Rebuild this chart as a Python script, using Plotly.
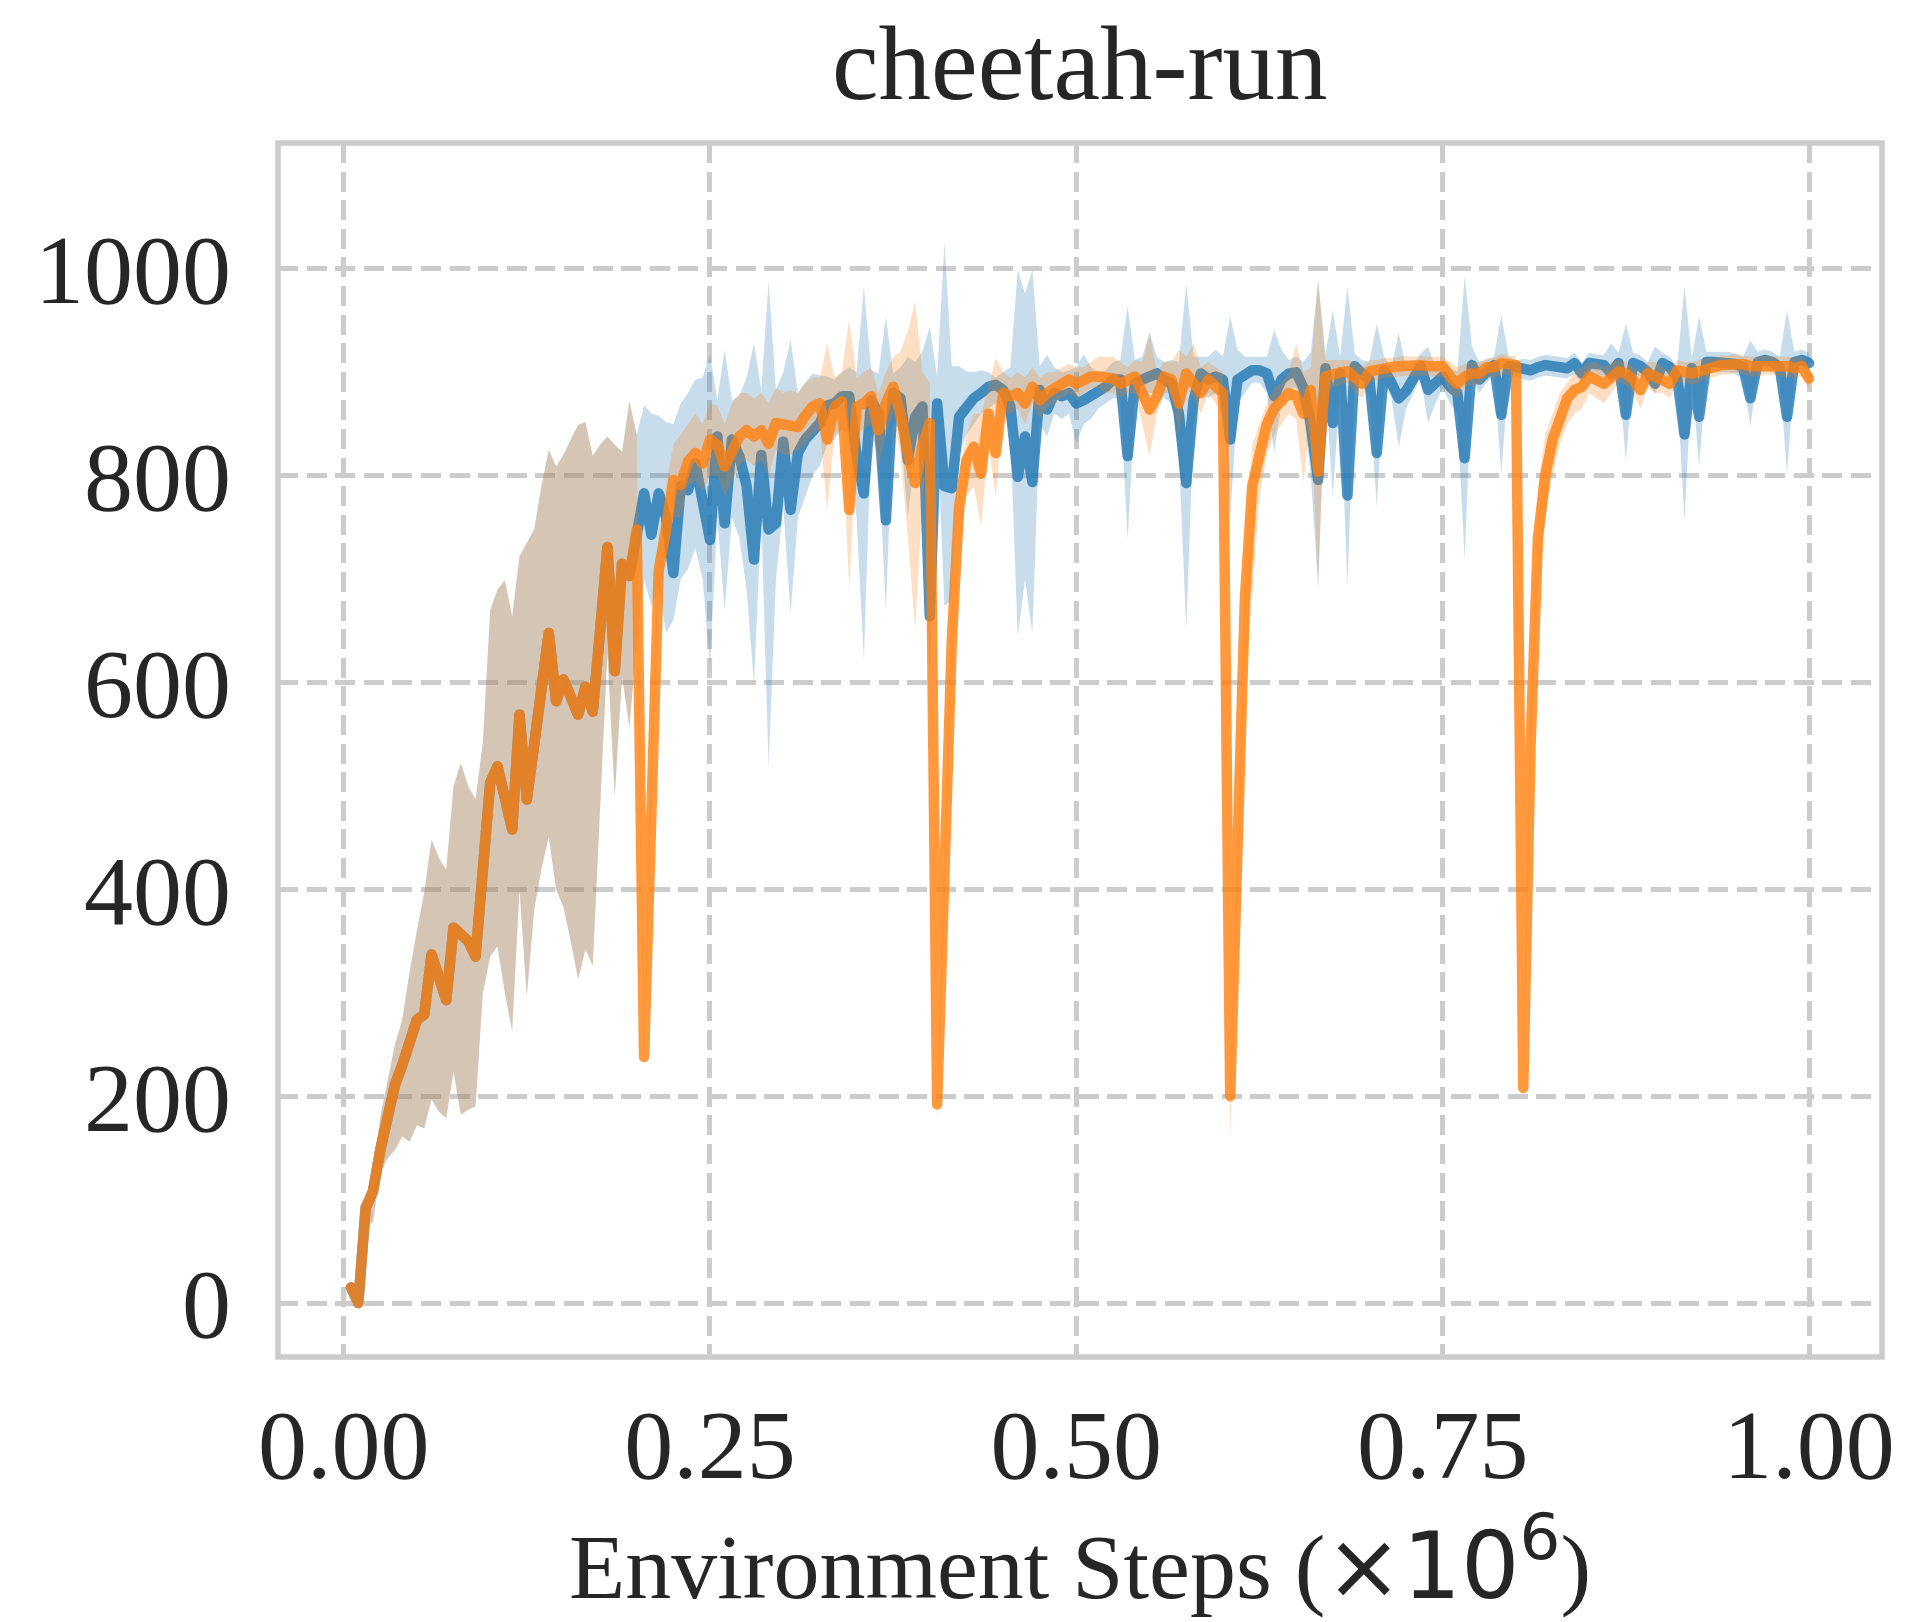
import numpy as np
import plotly.graph_objects as go

# Evaluation steps (in millions of environment steps)
steps = (np.arange(5000, 1000001, 5000) / 1e6).tolist()

# First 40 evaluations are shared by both runs
shared_mean = [15, 0, 92, 108, 148, 184, 211, 230, 252, 274, 279, 337, 315, 293, 363, 358, 350, 335, 420, 503,
               519, 488, 458, 569, 487, 540, 595, 648, 582, 603, 586, 569, 596, 572, 650, 731, 611, 715, 703, 748]
shared_lo = [10, 0, 75, 78, 126, 140, 148, 161, 156, 172, 169, 197, 185, 179, 224, 182, 187, 190, 300, 335,
             345, 300, 263, 400, 297, 380, 420, 451, 400, 383, 350, 313, 342, 326, 480, 628, 490, 606, 557, 640]
shared_hi = [20, 2, 100, 130, 180, 215, 250, 274, 320, 360, 397, 448, 430, 419, 500, 522, 500, 487, 542, 670,
             690, 699, 664, 722, 735, 748, 790, 825, 809, 820, 835, 849, 852, 819, 830, 838, 830, 823, 872, 840]

# Blue run, evaluations 41-200
blue_mean_tail = [
    783, 743, 783, 760, 706, 790, 786, 812, 775, 738,
    838, 754, 835, 819, 790, 719, 820, 748, 754, 833,
    767, 822, 835, 845, 851, 868, 870, 877, 877, 820,
    783, 873, 860, 757, 880, 875, 815, 857, 867, 664,
    870, 790, 788, 857, 867, 875, 880, 886, 888, 883,
    867, 799, 838, 794, 883, 864, 880, 877, 880, 870,
    873, 877, 882, 886, 893, 893, 819, 889, 893, 896,
    899, 893, 889, 860, 793, 873, 899, 893, 896, 893,
    835, 893, 899, 902, 902, 899, 877, 893, 899, 900,
    885, 850, 796, 904, 851, 899, 781, 906, 899, 893,
    822, 902, 890, 875, 882, 893, 906, 883, 888, 896,
    886, 880, 817, 907, 893, 900, 907, 859, 906, 905,
    903, 902, 905, 907, 906, 905, 904, 909, 899, 909,
    907, 907, 899, 909, 859, 909, 906, 900, 889, 909,
    905, 895, 840, 904, 857, 910, 910, 910, 910, 908,
    905, 875, 910, 912, 910, 905, 857, 910, 912, 909]
blue_lo_tail = [
    700, 674, 690, 648, 660, 700, 710, 730, 700, 616,
    760, 670, 760, 740, 690, 599, 760, 518, 700, 770,
    667, 760, 780, 800, 810, 830, 835, 845, 840, 760,
    622, 840, 820, 670, 850, 845, 760, 820, 840, 600,
    845, 674, 680, 820, 840, 850, 860, 865, 870, 865,
    840, 645, 700, 648, 850, 838, 860, 855, 860, 831,
    850, 855, 865, 870, 875, 875, 738, 870, 875, 880,
    880, 875, 870, 820, 651, 850, 885, 875, 880, 875,
    760, 870, 880, 890, 890, 880, 822, 870, 885, 885,
    860, 800, 693, 890, 780, 885, 693, 895, 885, 880,
    770, 890, 875, 828, 865, 880, 895, 851, 870, 885,
    870, 860, 719, 895, 880, 890, 898, 802, 895, 895,
    893, 892, 895, 897, 896, 895, 894, 899, 889, 899,
    897, 897, 889, 899, 815, 899, 896, 890, 879, 899,
    895, 885, 757, 894, 809, 900, 900, 900, 900, 898,
    895, 848, 900, 902, 900, 895, 802, 900, 902, 899]
blue_hi_tail = [
    868, 860, 858, 852, 850, 870, 880, 893, 895, 918,
    873, 922, 873, 877, 895, 928, 883, 988, 883, 900,
    931, 880, 890, 899, 897, 896, 893, 900, 905, 900,
    983, 902, 899, 954, 899, 905, 915, 910, 920, 944,
    896, 1026, 906, 906, 901, 900, 902, 900, 895, 900,
    905, 999, 976, 999, 906, 917, 905, 900, 902, 905,
    918, 905, 900, 902, 910, 912, 964, 912, 915, 938,
    915, 910, 912, 910, 986, 915, 915, 915, 922, 915,
    954, 922, 915, 915, 915, 915, 941, 922, 912, 915,
    910, 920, 989, 918, 960, 915, 983, 918, 912, 910,
    947, 915, 905, 938, 905, 908, 918, 925, 905, 910,
    905, 900, 993, 925, 910, 912, 915, 955, 915, 912,
    913, 912, 915, 917, 916, 915, 914, 919, 909, 919,
    917, 917, 928, 919, 947, 919, 916, 910, 925, 919,
    915, 905, 983, 914, 954, 920, 920, 920, 920, 918,
    915, 931, 920, 922, 920, 915, 960, 920, 922, 919]

# Orange run, evaluations 41-200
orange_mean_tail = [
    238, 500, 709, 748, 796, 791, 814, 822, 812, 835,
    830, 809, 825, 838, 844, 838, 844, 831, 851, 849,
    847, 847, 858, 867, 870, 835, 867, 872, 767, 867,
    870, 877, 844, 870, 886, 860, 822, 793, 830, 851,
    192, 400, 640, 770, 815, 828, 802, 860, 822, 880,
    877, 880, 870, 886, 873, 880, 884, 889, 893, 889,
    893, 896, 896, 895, 894, 889, 892, 896, 880, 864,
    877, 896, 893, 870, 899, 889, 880, 893, 885, 880,
    200, 420, 680, 790, 822, 850, 865, 872, 880, 877,
    860, 883, 804, 896, 899, 900, 901, 895, 889, 901,
    903, 905, 905, 906, 907, 906, 907, 906, 906, 906,
    896, 889, 896, 899, 899, 905, 905, 909, 908, 907,
    208, 540, 740, 800, 835, 857, 875, 883, 886, 896,
    893, 889, 895, 901, 899, 893, 883, 899, 896, 893,
    889, 902, 900, 899, 901, 904, 905, 907, 907, 909,
    908, 906, 906, 907, 907, 906, 906, 904, 906, 894]
orange_lo_tail = [
    228, 470, 680, 720, 760, 760, 790, 795, 785, 800,
    800, 780, 795, 810, 815, 810, 815, 800, 825, 820,
    820, 825, 830, 840, 845, 767, 840, 845, 690, 840,
    845, 850, 810, 840, 860, 820, 740, 651, 780, 820,
    180, 370, 600, 720, 780, 790, 751, 830, 780, 860,
    860, 865, 850, 870, 855, 865, 870, 875, 880, 875,
    880, 885, 885, 880, 880, 875, 880, 880, 850, 819,
    860, 880, 880, 840, 885, 875, 860, 880, 870, 860,
    160, 380, 600, 683, 780, 820, 840, 850, 860, 855,
    793, 860, 693, 880, 885, 888, 890, 880, 875, 890,
    892, 895, 895, 896, 897, 896, 897, 896, 896, 896,
    880, 875, 885, 888, 888, 895, 895, 898, 898, 898,
    198, 500, 690, 760, 800, 830, 850, 860, 865, 880,
    875, 870, 880, 890, 888, 880, 865, 885, 880, 880,
    875, 890, 890, 888, 890, 895, 895, 898, 898, 900,
    898, 896, 896, 898, 898, 896, 896, 894, 896, 884]
orange_hi_tail = [
    248, 560, 740, 790, 830, 840, 850, 860, 850, 870,
    868, 850, 870, 880, 880, 875, 880, 870, 885, 880,
    883, 880, 890, 895, 895, 928, 895, 900, 951, 895,
    900, 905, 880, 900, 915, 920, 940, 968, 900, 890,
    205, 440, 690, 800, 840, 860, 860, 885, 914, 900,
    895, 900, 895, 905, 895, 900, 900, 905, 908, 905,
    905, 910, 915, 915, 915, 910, 905, 912, 910, 938,
    900, 910, 910, 922, 915, 928, 905, 910, 905, 900,
    215, 470, 720, 830, 850, 870, 885, 890, 900, 928,
    900, 905, 989, 912, 912, 912, 912, 910, 905, 912,
    912, 914, 914, 915, 916, 915, 916, 915, 915, 915,
    910, 905, 908, 910, 910, 914, 914, 918, 916, 916,
    218, 600, 790, 840, 860, 880, 890, 900, 905, 910,
    910, 905, 910, 912, 910, 905, 900, 910, 910, 905,
    900, 912, 910, 910, 912, 914, 914, 916, 916, 918,
    916, 915, 915, 916, 916, 915, 915, 914, 915, 905]

blue_mean = shared_mean + blue_mean_tail
blue_lo = shared_lo + blue_lo_tail
blue_hi = shared_hi + blue_hi_tail
orange_mean = shared_mean + orange_mean_tail
orange_lo = shared_lo + orange_lo_tail
orange_hi = shared_hi + orange_hi_tail

x_ticks = [0.0, 0.25, 0.5, 0.75, 1.0]
x_tick_text = ["0.00", "0.25", "0.50", "0.75", "1.00"]
y_ticks = [0, 200, 400, 600, 800, 1000]

BLUE = (31, 119, 180)
ORANGE = (255, 127, 14)
SERIF = "Liberation Serif"
INK = "#262626"
GRID = "#cccccc"


def rgba(c, a):
    return f"rgba({c[0]},{c[1]},{c[2]},{a})"


fig = go.Figure()
for mean, lo, hi, col in [(blue_mean, blue_lo, blue_hi, BLUE),
                          (orange_mean, orange_lo, orange_hi, ORANGE)]:
    fig.add_trace(go.Scatter(
        x=steps + steps[::-1], y=hi + lo[::-1],
        fill="toself", fillcolor=rgba(col, 0.25),
        line=dict(width=0), mode="lines", hoverinfo="skip", showlegend=False))
    fig.add_trace(go.Scatter(
        x=steps, y=mean, mode="lines",
        line=dict(color=rgba(col, 0.8), width=10.5),
        showlegend=False))

axis_common = dict(
    showgrid=True, gridcolor=GRID, gridwidth=5, griddash="20px,8.6px",
    zeroline=False, showline=False, ticks="",
    tickfont=dict(family=SERIF, size=98, color=INK),
)
fig.update_xaxes(range=[-0.0448, 1.0498], tickvals=x_ticks, ticktext=x_tick_text,
                 ticklabelstandoff=22, **axis_common)
fig.update_yaxes(range=[-52.2, 1121.8], tickvals=y_ticks,
                 ticklabelstandoff=46, **axis_common)

fig.add_shape(type="rect", xref="paper", yref="paper", x0=0, x1=1, y0=0, y1=1,
              line=dict(color=GRID, width=5.5), layer="above")

fig.add_annotation(text="cheetah-run", xref="paper", yref="paper",
                   x=0.5, y=(1357.5 - 63) / 1214.5, xanchor="center", yanchor="middle",
                   showarrow=False, font=dict(family=SERIF, size=105, color=INK))
fig.add_annotation(
    text="Environment Steps (<span style='font-family:DejaVu Sans'>×10<sup>6</sup></span>)",
    xref="paper", yref="paper", x=0.5, y=(1357.5 - 1560) / 1214.5,
    xanchor="center", yanchor="middle", showarrow=False,
    font=dict(family=SERIF, size=92, color=INK))

fig.update_layout(
    width=1907, height=1622,
    margin=dict(l=278, r=23, t=143, b=265, pad=0),
    paper_bgcolor="white", plot_bgcolor="white",
    showlegend=False,
)

# Rounded joins and caps on the curves
round_js = """
var gd = document.getElementsByClassName('plotly-graph-div')[0];
function roundLines() {
  gd.querySelectorAll('.scatterlayer .js-line').forEach(function (p) {
    p.style.strokeLinejoin = 'round';
    p.style.strokeLinecap = 'round';
  });
}
roundLines();
gd.on('plotly_afterplot', roundLines);
"""

fig.write_html("out.html", post_script=round_js)
